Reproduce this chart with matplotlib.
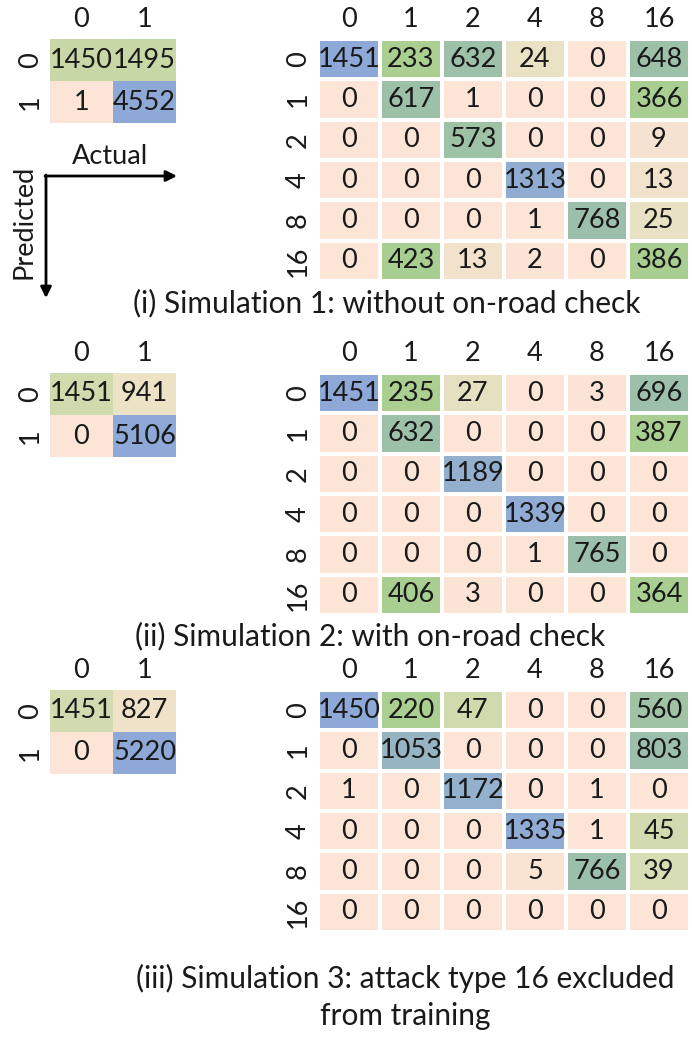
import numpy as np
import matplotlib
matplotlib.use('Agg')
import matplotlib.pyplot as plt
from matplotlib.colors import LinearSegmentedColormap, FuncNorm, PowerNorm

plt.rcParams['font.family'] = ['Lato', 'DejaVu Sans']

# ---- data ----
bin_labels = ['0', '1']
cls_labels = ['0', '1', '2', '4', '8', '16']

sim1_bin = [[1450, 1495],
            [1, 4552]]
sim1_cls = [[1451, 233, 632, 24, 0, 648],
            [0, 617, 1, 0, 0, 366],
            [0, 0, 573, 0, 0, 9],
            [0, 0, 0, 1313, 0, 13],
            [0, 0, 0, 1, 768, 25],
            [0, 423, 13, 2, 0, 386]]

sim2_bin = [[1451, 941],
            [0, 5106]]
sim2_cls = [[1451, 235, 27, 0, 3, 696],
            [0, 632, 0, 0, 0, 387],
            [0, 0, 1189, 0, 0, 0],
            [0, 0, 0, 1339, 0, 0],
            [0, 0, 0, 1, 765, 0],
            [0, 406, 3, 0, 0, 364]]

sim3_bin = [[1451, 827],
            [0, 5220]]
sim3_cls = [[1450, 220, 47, 0, 0, 560],
            [0, 1053, 0, 0, 0, 803],
            [1, 0, 1172, 0, 1, 0],
            [0, 0, 0, 1335, 1, 45],
            [0, 0, 0, 5, 766, 39],
            [0, 0, 0, 0, 0, 0]]

captions = ['(i) Simulation 1: without on-road check',
            '(ii) Simulation 2: with on-road check',
            '(iii) Simulation 3: attack type 16 excluded\nfrom training']

# ---- style ----
W, H = 692, 1037
cmap = LinearSegmentedColormap.from_list('cm', [
    (0.00, '#FCE4D6'),
    (0.20, '#FBE3D5'),
    (0.32, '#F6E2D0'),
    (0.44, '#EBE2C5'),
    (0.55, '#CAD9A9'),
    (0.70, '#ABD08F'),
    (0.83, '#A8CE91'),
    (0.88, '#9DC0A8'),
    (0.93, '#9CBFAC'),
    (0.96, '#96B3C6'),
    (1.00, '#8EA9D8')])
TXT = '#1a1a1a'
FS = 19.5
CAP_FS = 21.5


def rect(x0, y0, x1, y1):
    return [x0 / W, 1 - y1 / H, (x1 - x0) / W, (y1 - y0) / H]


def draw_matrix(ax, data, labels, norm, grid):
    data = np.array(data)
    n = len(labels)
    ax.pcolormesh(np.arange(n + 1), np.arange(n + 1), data, cmap=cmap, norm=norm,
                  edgecolors='white' if grid else 'face', linewidth=1.5 if grid else 0)
    ax.set_xlim(0, n)
    ax.set_ylim(n, 0)
    for i in range(n):
        for j in range(n):
            ax.text(j + 0.5, i + 0.5, str(data[i, j]), ha='center', va='center',
                    fontsize=FS, color=TXT)
    ax.xaxis.tick_top()
    ax.set_xticks(np.arange(n) + 0.5)
    ax.set_xticklabels(labels)
    ax.set_yticks(np.arange(n) + 0.5)
    ax.set_yticklabels(labels, rotation=90, va='center')
    ax.tick_params(length=0, labelsize=FS, labelcolor=TXT, pad=5)
    for s in ax.spines.values():
        s.set_visible(False)


fig = plt.figure(figsize=(W / 100, H / 100), dpi=100)

# overlay for arrows and captions, pixel coordinates
ov = fig.add_axes([0, 0, 1, 1])
ov.set_xlim(0, W)
ov.set_ylim(H, 0)
ov.axis('off')

tops = [39, 373, 690]
cap_x = [387, 370, 405]
cap_y = [303, 636, 997]
bins = [sim1_bin, sim2_bin, sim3_bin]
clss = [sim1_cls, sim2_cls, sim3_cls]

for k in range(3):
    t = tops[k]
    ax_b = fig.add_axes(rect(50, t, 176, t + 84))
    draw_matrix(ax_b, bins[k], bin_labels,
                PowerNorm(0.5, vmin=0, vmax=np.max(bins[k])), False)
    ax_c = fig.add_axes(rect(318, t, 690, t + 242))
    vmax = np.max(clss[k])
    draw_matrix(ax_c, clss[k], cls_labels,
                FuncNorm((np.log1p, np.expm1), vmin=0, vmax=vmax), True)
    ov.text(cap_x[k], cap_y[k], captions[k], ha='center', va='center',
            fontsize=CAP_FS, color=TXT, linespacing=1.4)

# Actual / Predicted arrows
ov.annotate('', xy=(177, 176), xytext=(45, 176),
            arrowprops=dict(arrowstyle='-|>', lw=2, color='black', mutation_scale=16,
                            shrinkA=0, shrinkB=0))
ov.annotate('', xy=(46, 298), xytext=(46, 175),
            arrowprops=dict(arrowstyle='-|>', lw=2, color='black', mutation_scale=16,
                            shrinkA=0, shrinkB=0))
ov.text(110, 156, 'Actual', ha='center', va='center', fontsize=FS, color=TXT)
ov.text(24, 222, 'Predicted', ha='center', va='center', rotation=90, fontsize=FS, color=TXT)

plt.savefig('out.png', dpi=100)
